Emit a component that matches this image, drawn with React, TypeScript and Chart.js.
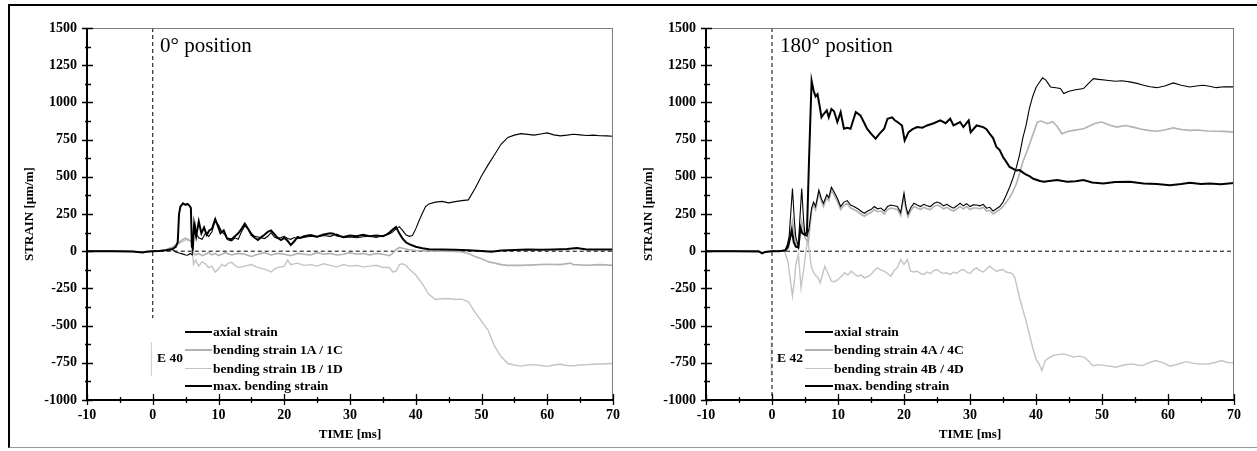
import React, { useEffect, useRef } from 'react';
import { Chart, registerables } from 'chart.js';

Chart.register(...registerables);

// ---------- axis ranges / ticks ----------
const X_MIN = -10;
const X_MAX = 70;
const Y_MIN = -1000;
const Y_MAX = 1500;
const X_STEP = 5;
const Y_STEP = 125;

// ---------- E 40 (0° position) : [time ms, strain µm/m] ----------
const axial40: [number, number][] = [
  [-10, 0], [-6, 0], [-3, -2], [-1.5, -8], [-1, -3], [0, 0], [1, 2], [2, 6], [3, 15], [3.5, 30], [3.8, 60],
  [4.0, 250], [4.2, 300], [4.6, 322], [5.0, 312], [5.3, 318], [5.6, 305], [5.8, 290], [5.95, 30], [6.1, 20],
  [6.3, 180], [6.6, 100], [7.0, 200], [7.4, 120], [7.8, 160], [8.2, 110], [8.6, 140], [9.0, 150], [9.5, 215],
  [9.9, 170], [10.3, 120], [10.8, 140], [11.3, 85], [12.0, 80], [12.5, 100], [13.0, 120], [13.5, 150], [14.0, 185],
  [14.5, 150], [15.0, 110], [15.5, 90], [16.0, 75], [16.5, 95], [17.0, 110], [17.5, 130], [18.0, 140], [18.5, 115],
  [19.0, 90], [19.5, 75], [20.0, 90], [20.5, 70], [21.0, 42], [21.5, 65], [22.0, 95], [22.5, 90], [23.0, 100],
  [24.0, 108], [25.0, 98], [26.0, 112], [27.0, 120], [27.5, 118], [28.0, 105], [29.0, 95], [30.0, 105], [31.0, 100],
  [32.0, 110], [33.0, 100], [34.0, 105], [35.0, 100], [35.5, 110], [36.0, 125], [36.5, 145], [37.0, 162], [37.5, 120],
  [38.0, 85], [38.5, 60], [39.0, 48], [40.0, 30], [41.0, 20], [42.0, 13], [44.0, 12], [46.0, 10], [48.0, 6],
  [50.0, 2], [51.5, -4], [53.0, 4], [55.0, 8], [57.0, 12], [59.0, 10], [61.0, 12], [63.0, 15], [64.5, 22],
  [66.0, 12], [68.0, 12], [70.0, 12],
];

const maxBend40: [number, number][] = [
  [-10, 0], [-6, 0], [-3, -2], [-1.5, -8], [-1, -3], [0, 0], [1, 2], [2, 6], [3, 12], [3.5, -5], [4.0, -12],
  [4.5, -18], [5.0, -25], [5.3, -27], [5.7, -15], [6.0, -25], [6.2, 170], [6.4, 190], [6.7, 110], [7.0, 90],
  [7.5, 80], [8.0, 120], [8.5, 100], [9.0, 130], [9.5, 205], [10.0, 175], [10.5, 130], [11.0, 110], [11.5, 75],
  [12.0, 70], [12.5, 90], [13.0, 80], [13.5, 130], [14.0, 170], [14.5, 150], [15.0, 120], [15.5, 100], [16.0, 95],
  [17.0, 85], [17.5, 100], [18.0, 125], [18.5, 95], [19.0, 85], [19.5, 92], [20.0, 100], [20.5, 85], [21.0, 80],
  [21.5, 92], [22.0, 85], [23.0, 92], [24.0, 100], [25.0, 95], [26.0, 105], [27.0, 100], [28.0, 115], [29.0, 90],
  [30.0, 95], [31.0, 90], [32.0, 97], [33.0, 100], [34.0, 92], [35.0, 105], [36.0, 115], [36.5, 130], [37.0, 150],
  [37.5, 165], [38.0, 140], [38.5, 110], [39.0, 100], [39.5, 105], [40.0, 150], [40.5, 205], [41.0, 255],
  [41.5, 300], [42.0, 318], [43.0, 330], [44.0, 335], [45.0, 325], [46.0, 333], [47.0, 340], [48.0, 345],
  [49.0, 420], [50.0, 505], [51.0, 580], [52.0, 650], [53.0, 720], [54.0, 765], [55.0, 780], [56.0, 790],
  [57.0, 785], [58.0, 780], [59.0, 788], [60.0, 795], [61.0, 782], [62.0, 775], [63.0, 780], [64.0, 786],
  [65.0, 782], [66.0, 778], [67.0, 780], [68.0, 776], [69.0, 775], [70.0, 773],
];

const bend1AC40: [number, number][] = [
  [-10, 0], [-6, 0], [-3, -2], [-1.5, -8], [-1, -3], [0, 0], [1, 3], [2, 10], [3, 28], [3.5, 42], [4.0, 58],
  [4.5, 78], [5.0, 88], [5.5, 76], [5.9, 62], [6.1, -10], [6.5, -25], [7.0, -15], [7.5, -30], [8.0, -20],
  [8.5, -10], [9.0, -25], [9.5, -15], [10.0, -30], [10.5, -20], [11.0, -10], [12.0, -25], [13.0, -15], [14.0, -20],
  [15.0, -35], [16.0, -20], [17.0, -10], [18.0, -25], [19.0, -15], [20.0, -20], [21.0, -30], [22.0, -15],
  [23.0, -20], [24.0, -25], [25.0, -10], [26.0, -20], [27.0, -15], [28.0, -25], [29.0, -20], [30.0, -10],
  [31.0, -20], [32.0, -15], [33.0, -25], [34.0, -15], [35.0, -20], [36.0, -30], [36.5, -15], [37.0, 10],
  [37.5, 25], [38.0, 20], [39.0, 10], [40.0, 5], [42.0, 2], [44.0, 0], [46.0, -2], [47.0, -5], [48.0, -15],
  [49.0, -35], [50.0, -50], [51.0, -70], [52.0, -80], [53.0, -90], [54.0, -95], [56.0, -95], [58.0, -92],
  [60.0, -88], [62.0, -90], [63.5, -80], [64.0, -90], [66.0, -94], [68.0, -90], [70.0, -95],
];

const bend1BD40: [number, number][] = [
  [-10, 0], [-6, 0], [-3, -2], [-1.5, -8], [-1, -3], [0, 0], [1, 3], [2, 8], [3, 22], [4.0, 50], [5.0, 78],
  [5.9, 68], [6.2, -90], [6.5, -60], [7.0, -100], [7.5, -70], [8.0, -85], [8.5, -110], [9.0, -100], [9.5, -140],
  [10.0, -120], [10.5, -90], [11.0, -100], [11.5, -80], [12.0, -75], [12.5, -95], [13.0, -110], [14.0, -100],
  [15.0, -90], [16.0, -110], [17.0, -120], [18.0, -140], [18.5, -120], [19.0, -110], [20.0, -100], [20.5, -60],
  [21.0, -90], [22.0, -80], [23.0, -95], [24.0, -90], [25.0, -100], [26.0, -85], [27.0, -95], [28.0, -105],
  [29.0, -90], [30.0, -100], [31.0, -95], [32.0, -105], [33.0, -100], [34.0, -95], [35.0, -110], [36.0, -110],
  [36.5, -140], [37.0, -135], [37.5, -90], [38.0, -85], [38.5, -95], [39.0, -120], [40.0, -160], [41.0, -220],
  [42.0, -290], [43.0, -325], [44.0, -320], [45.0, -318], [46.0, -325], [47.0, -322], [48.0, -340], [49.0, -410],
  [50.0, -470], [51.0, -530], [52.0, -640], [53.0, -710], [54.0, -755], [55.0, -765], [56.0, -772], [57.0, -765],
  [58.0, -762], [59.0, -768], [60.0, -774], [61.0, -765], [62.0, -760], [63.0, -768], [64.0, -770], [65.0, -765],
  [66.0, -762], [67.0, -760], [68.0, -758], [69.0, -756], [70.0, -755],
];

// ---------- E 42 (180° position) ----------
const axial42: [number, number][] = [
  [-10, 0], [-6, 0], [-2, -2], [-1.5, -15], [-1, -5], [0, 0], [1, 0], [2, 5], [2.4, 30], [2.7, 80], [3.0, 140],
  [3.3, 60], [3.6, 30], [4.0, 25], [4.3, 160], [4.6, 120], [5.0, 110], [5.3, 130], [5.6, 600], [6.0, 1145],
  [6.3, 1080], [6.6, 1040], [6.9, 1055], [7.2, 980], [7.5, 900], [7.8, 920], [8.3, 946], [8.6, 900], [9.0, 955],
  [9.4, 940], [9.9, 868], [10.4, 935], [10.9, 823], [11.4, 830], [11.9, 823], [12.3, 880], [12.7, 935],
  [13.4, 912], [14.0, 860], [14.4, 823], [15.0, 790], [15.7, 756], [16.3, 790], [17.0, 823], [17.5, 890],
  [18.2, 900], [18.6, 880], [19.0, 868], [19.7, 845], [20.1, 744], [20.7, 800], [21.3, 820], [22.0, 834],
  [22.8, 830], [23.5, 845], [24.5, 860], [25.5, 879], [26.3, 860], [27.0, 890], [27.5, 845], [28.5, 868],
  [29.0, 834], [29.8, 879], [30.1, 800], [31.0, 845], [32.0, 834], [32.5, 820], [33.0, 789], [33.5, 760],
  [34.0, 700], [34.5, 680], [35.0, 633], [35.5, 600], [36.0, 566], [37.0, 543], [37.5, 545], [38.3, 520],
  [39.0, 505], [39.6, 487], [40.6, 472], [41.2, 467], [42.0, 472], [43.2, 478], [44.7, 467], [46.0, 470],
  [47.2, 478], [48.5, 462], [50.2, 455], [52.0, 465], [54.2, 467], [56.3, 455], [58.3, 452], [60.3, 444],
  [62.0, 452], [63.3, 460], [65.0, 452], [66.3, 455], [68.0, 450], [70.0, 458],
];

const maxBend42: [number, number][] = [
  [-10, 0], [-6, 0], [-2, 0], [-1.5, -12], [-1, -4], [0, 0], [1, 0], [2.0, 10], [2.3, 40], [2.6, 100],
  [3.1, 421], [3.4, 200], [3.6, 97], [4.0, 29], [4.2, 200], [4.5, 421], [4.8, 200], [5.0, 112], [5.3, 100],
  [5.6, 150], [6.0, 290], [6.3, 330], [6.6, 300], [7.1, 411], [7.5, 350], [7.8, 322], [8.3, 380], [8.6, 360],
  [9.0, 430], [9.4, 400], [9.9, 356], [10.4, 300], [10.9, 330], [11.4, 340], [11.9, 310], [12.4, 300],
  [13.0, 285], [13.6, 265], [14.0, 255], [14.5, 270], [15.0, 280], [15.5, 300], [16.0, 285], [16.5, 290],
  [17.0, 270], [17.5, 300], [18.0, 310], [18.5, 305], [19.0, 300], [19.5, 260], [19.8, 340], [20.0, 390],
  [20.3, 300], [20.6, 250], [21.0, 290], [21.5, 322], [22.0, 310], [22.5, 300], [23.0, 315], [23.5, 305],
  [24.0, 300], [24.5, 320], [25.0, 330], [25.5, 322], [26.0, 305], [26.5, 315], [27.0, 300], [27.5, 289],
  [28.0, 305], [28.5, 322], [29.0, 305], [29.5, 320], [30.0, 300], [30.5, 311], [31.0, 310], [31.5, 305],
  [32.0, 315], [32.5, 289], [33.0, 295], [33.5, 270], [34.0, 285], [34.5, 300], [35.0, 330], [35.5, 378],
  [36.0, 430], [36.5, 490], [37.0, 560], [37.5, 646], [38.0, 760], [38.5, 848], [39.0, 960], [39.5, 1040],
  [40.0, 1100], [40.6, 1140], [41.0, 1165], [41.5, 1150], [42.2, 1104], [43.0, 1098], [43.7, 1093],
  [44.2, 1059], [45.0, 1075], [46.0, 1085], [47.2, 1093], [48.0, 1130], [48.7, 1160], [49.5, 1155],
  [50.7, 1149], [52.0, 1142], [53.0, 1145], [54.2, 1138], [55.3, 1128], [56.3, 1115], [57.3, 1105],
  [58.3, 1099], [59.5, 1110], [60.8, 1131], [62.0, 1115], [63.3, 1104], [64.3, 1110], [65.3, 1115],
  [66.3, 1108], [67.3, 1099], [68.5, 1105], [70.0, 1104],
];

const bend4AC42: [number, number][] = [
  [-10, 0], [-6, 0], [-2, 0], [-1.5, -10], [-1, -3], [0, 0], [2, 0], [2.5, 20], [3.1, 200], [3.6, 60],
  [4.0, 20], [4.5, 200], [5.0, 90], [5.5, 60], [6.0, 270], [6.3, 310], [6.6, 280], [7.1, 390], [7.5, 330],
  [7.8, 300], [8.3, 360], [8.6, 340], [9.0, 410], [9.4, 380], [9.9, 335], [10.4, 280], [10.9, 310], [11.4, 320],
  [11.9, 290], [12.4, 280], [13.0, 265], [13.6, 245], [14.0, 235], [14.5, 250], [15.0, 260], [15.5, 280],
  [16.0, 265], [16.5, 270], [17.0, 250], [17.5, 280], [18.0, 290], [18.5, 285], [19.0, 280], [19.5, 240],
  [19.8, 320], [20.0, 370], [20.3, 280], [20.6, 230], [21.0, 270], [21.5, 300], [22.0, 290], [22.5, 280],
  [23.0, 295], [23.5, 285], [24.0, 280], [24.5, 300], [25.0, 310], [25.5, 300], [26.0, 285], [26.5, 295],
  [27.0, 280], [27.5, 270], [28.0, 285], [28.5, 300], [29.0, 285], [29.5, 300], [30.0, 280], [30.5, 290],
  [31.0, 290], [31.5, 285], [32.0, 295], [32.5, 270], [33.0, 275], [33.5, 250], [34.0, 265], [34.5, 280],
  [35.0, 300], [35.5, 330], [36.0, 360], [36.5, 400], [37.0, 450], [37.5, 520], [38.0, 600], [38.7, 678],
  [39.5, 780], [40.2, 868], [40.8, 875], [41.7, 857], [42.5, 870], [43.2, 840], [43.9, 790], [44.8, 805],
  [45.7, 812], [46.5, 818], [47.2, 823], [48.0, 840], [49.0, 860], [50.0, 868], [51.0, 850], [52.2, 834],
  [53.5, 845], [54.7, 834], [56.0, 820], [57.0, 812], [58.3, 806], [59.5, 815], [60.8, 829], [62.0, 818],
  [63.3, 812], [64.5, 815], [66.0, 808], [67.3, 806], [68.5, 805], [70.0, 800],
];

const bend4BD42: [number, number][] = [
  [-10, 0], [-6, 0], [-2, 0], [-1.5, -10], [-1, -3], [0, 0], [1.9, 0], [2.4, -67], [2.8, -200], [3.1, -302],
  [3.4, -200], [3.6, -90], [4.0, -22], [4.4, -246], [4.9, -90], [5.4, 87], [5.7, -20], [6.0, -112], [6.5, -157],
  [7.0, -180], [7.3, -213], [7.7, -150], [8.0, -101], [8.5, -150], [9.0, -201], [9.5, -205], [10.0, -190],
  [10.5, -170], [11.0, -145], [11.5, -160], [12.0, -134], [12.5, -155], [13.0, -168], [13.5, -160], [14.0, -179],
  [14.5, -170], [15.0, -157], [15.5, -130], [16.0, -112], [16.5, -125], [17.0, -134], [17.5, -150], [18.0, -168],
  [18.5, -130], [19.0, -112], [19.5, -56], [20.0, -90], [20.5, -56], [21.0, -134], [21.5, -140], [22.0, -134],
  [22.5, -150], [23.0, -157], [23.5, -140], [24.0, -150], [24.5, -130], [25.0, -123], [25.5, -140], [26.0, -150],
  [26.5, -145], [27.0, -157], [27.5, -140], [28.0, -150], [28.5, -130], [29.0, -123], [29.5, -140], [30.0, -150],
  [30.5, -125], [31.0, -112], [31.5, -130], [32.0, -140], [32.5, -120], [33.0, -101], [33.5, -120], [34.0, -134],
  [34.5, -128], [35.0, -123], [35.5, -140], [36.0, -145], [36.4, -150], [36.8, -179], [37.5, -313], [38.5, -470],
  [39.5, -649], [40.0, -724], [40.5, -761], [40.9, -802], [41.4, -735], [42.0, -715], [42.6, -701], [43.3, -695],
  [44.1, -690], [45.0, -700], [45.6, -712], [46.5, -705], [47.3, -712], [48.0, -740], [48.6, -769], [49.5, -762],
  [50.6, -769], [51.5, -775], [52.1, -780], [53.3, -765], [54.6, -757], [55.3, -765], [56.1, -769], [57.0, -752],
  [58.1, -735], [59.3, -750], [60.3, -773], [61.5, -760], [62.8, -742], [63.7, -752], [64.6, -757], [66.0, -758],
  [67.0, -750], [68.1, -735], [69.0, -748], [70.0, -750],
];

// ---------- reference lines ----------
const zeroLine: [number, number][] = [[0, 0], [70, 0]];
const impactLine40: [number, number][] = [[0, 1500], [0, -450]];
const impactLine42: [number, number][] = [[0, 1500], [0, -1000]];
const sepLine40: [number, number][] = [[-0.2, -612], [-0.2, -840]];
const sepLine42: [number, number][] = [[-0.1, -612], [-0.1, -840]];

const legend40 = ['axial strain', 'bending strain 1A / 1C', 'bending strain 1B / 1D', 'max. bending strain'];
const legend42 = ['axial strain', 'bending strain 4A / 4C', 'bending strain 4B / 4D', 'max. bending strain'];

const SERIF = "'Liberation Serif', 'Times New Roman', serif";
const GRAY_A = '#b2b2b2';
const GRAY_B = '#c4c4c4';

const axesPlugin = {
  id: 'axesPlugin',
  afterDatasetsDraw(chart: any) {
    const { ctx, chartArea: a, scales } = chart;
    const xs = scales.x;
    const ys = scales.y;
    ctx.save();
    // top / right frame
    ctx.strokeStyle = '#7a7a7a';
    ctx.lineWidth = 1;
    ctx.beginPath();
    ctx.moveTo(a.left, a.top + 0.5);
    ctx.lineTo(a.right, a.top + 0.5);
    ctx.moveTo(a.right - 0.5, a.top);
    ctx.lineTo(a.right - 0.5, a.bottom);
    ctx.stroke();
    // axes
    ctx.strokeStyle = '#000';
    ctx.lineWidth = 2;
    ctx.beginPath();
    ctx.moveTo(a.left, a.top);
    ctx.lineTo(a.left, a.bottom);
    ctx.lineTo(a.right, a.bottom);
    ctx.stroke();
    // tick marks
    ctx.lineWidth = 1.3;
    ctx.beginPath();
    ys.ticks.forEach((t: any) => {
      const y = Math.round(ys.getPixelForValue(t.value)) + 0.5;
      const major = t.value % 250 === 0;
      ctx.moveTo(a.left - (major ? 5 : 2), y);
      ctx.lineTo(a.left + (major ? 6 : 4), y);
    });
    xs.ticks.forEach((t: any) => {
      const x = Math.round(xs.getPixelForValue(t.value)) + 0.5;
      const major = t.value % 10 === 0;
      ctx.moveTo(x, a.bottom - (major ? 6 : 3));
      ctx.lineTo(x, a.bottom + (major ? 5 : 3));
    });
    ctx.stroke();
    ctx.restore();
  },
};

type PanelProps = {
  left: number;
  width: number;
  padRight: number;
  axial: [number, number][];
  maxBend: [number, number][];
  bendA: [number, number][];
  bendB: [number, number][];
  impact: [number, number][];
  sep: [number, number][];
  labels: string[];
};

function StrainPanel(p: PanelProps) {
  const ref = useRef<HTMLCanvasElement | null>(null);
  useEffect(() => {
    if (!ref.current) return;
    const xy = (arr: [number, number][]) => arr.map(([x, y]) => ({ x, y }));
    const tickFont = { family: SERIF, size: 14, weight: 'bold' as const };
    const chart = new Chart(ref.current, {
      type: 'line',
      data: {
        datasets: [
          { label: p.labels[0], data: xy(p.axial), borderColor: '#000', borderWidth: 2 },
          { label: p.labels[3], data: xy(p.maxBend), borderColor: '#000', borderWidth: 1.1 },
          { label: p.labels[1], data: xy(p.bendA), borderColor: GRAY_A, borderWidth: 1.6 },
          { label: p.labels[2], data: xy(p.bendB), borderColor: GRAY_B, borderWidth: 1.4 },
          { label: 'zero', data: xy(zeroLine), borderColor: '#000', borderWidth: 1, borderDash: [4, 3] },
          { label: 'impact', data: xy(p.impact), borderColor: '#000', borderWidth: 1, borderDash: [4, 3] },
          { label: 'sep', data: xy(p.sep), borderColor: '#d4d4d4', borderWidth: 1 },
        ] as any,
      },
      options: {
        responsive: false,
        animation: false,
        events: [],
        elements: { point: { radius: 0 }, line: { tension: 0 } },
        layout: { padding: { top: 28, right: p.padRight, left: 0, bottom: 0 } },
        plugins: { legend: { display: false }, tooltip: { enabled: false }, title: { display: false } },
        scales: {
          x: {
            type: 'linear',
            min: X_MIN,
            max: X_MAX,
            grid: { display: false, drawTicks: false },
            border: { display: false },
            ticks: {
              stepSize: X_STEP,
              autoSkip: false,
              maxRotation: 0,
              padding: 7,
              color: '#000',
              font: tickFont,
              callback: (v: any) => (Number(v) % 10 === 0 ? String(v) : ''),
            },
            title: {
              display: true,
              text: 'TIME [ms]',
              color: '#000',
              font: { family: SERIF, size: 13, weight: 'bold' },
              padding: { top: 0, bottom: 9 },
            },
            afterFit: (s: any) => {
              s.height = 51;
            },
          },
          y: {
            type: 'linear',
            min: Y_MIN,
            max: Y_MAX,
            grid: { display: false, drawTicks: false },
            border: { display: false },
            ticks: {
              stepSize: Y_STEP,
              autoSkip: false,
              padding: 10,
              color: '#000',
              font: tickFont,
              callback: (v: any) => (Number(v) % 250 === 0 ? String(v) : ''),
            },
            title: {
              display: true,
              text: 'STRAIN [µm/m]',
              color: '#000',
              font: { family: SERIF, size: 13, weight: 'bold' },
              padding: { top: 14, bottom: 0 },
            },
            afterFit: (s: any) => {
              s.width = 79;
            },
          },
        },
      } as any,
      plugins: [axesPlugin],
    });
    return () => chart.destroy();
  }, []);
  return (
    <canvas
      ref={ref}
      width={p.width}
      height={451}
      style={{ position: 'absolute', left: p.left, top: 0, width: p.width, height: 451, display: 'block' }}
    />
  );
}

const legendRowsY = [331.5, 350, 368.5, 386];
const legendStyles = [
  { color: '#000', w: 2 },
  { color: GRAY_A, w: 2 },
  { color: GRAY_B, w: 1.3 },
  { color: '#000', w: 1.2 },
];

function Legend({ lineX, textX, labels, tagX, tag }: { lineX: number; textX: number; labels: string[]; tagX: number; tag: string }) {
  const txt: React.CSSProperties = {
    position: 'absolute',
    fontFamily: SERIF,
    fontWeight: 'bold',
    fontSize: 13.5,
    lineHeight: '16px',
    whiteSpace: 'nowrap',
    color: '#000',
  };
  return (
    <>
      {labels.map((l, i) => (
        <React.Fragment key={i}>
          <div
            style={{
              position: 'absolute',
              left: lineX,
              top: legendRowsY[i] - legendStyles[i].w / 2,
              width: textX - lineX - 1,
              height: legendStyles[i].w,
              background: legendStyles[i].color,
            }}
          />
          <div style={{ ...txt, left: textX, top: legendRowsY[i] - 8 }}>{l}</div>
        </React.Fragment>
      ))}
      <div style={{ ...txt, left: tagX, top: 350 }}>{tag}</div>
    </>
  );
}

export default function App() {
  const title: React.CSSProperties = {
    position: 'absolute',
    fontFamily: SERIF,
    fontSize: 21,
    lineHeight: '24px',
    whiteSpace: 'nowrap',
    color: '#000',
    top: 33,
  };
  return (
    <div style={{ position: 'absolute', left: 0, top: 0, width: 1257, height: 451, background: '#fff', overflow: 'hidden' }}>
      <div
        style={{
          position: 'absolute',
          left: 8,
          top: 4,
          width: 1249,
          height: 444,
          borderTop: '2px solid #000',
          borderLeft: '2px solid #000',
          borderBottom: '1px solid #999',
          boxSizing: 'border-box',
        }}
      />
      <StrainPanel
        left={8}
        width={619}
        padRight={9}
        axial={axial40}
        maxBend={maxBend40}
        bendA={bend1AC40}
        bendB={bend1BD40}
        impact={impactLine40}
        sep={sepLine40}
        labels={legend40}
      />
      <StrainPanel
        left={627}
        width={621}
        padRight={10}
        axial={axial42}
        maxBend={maxBend42}
        bendA={bend4AC42}
        bendB={bend4BD42}
        impact={impactLine42}
        sep={sepLine42}
        labels={legend42}
      />
      <div style={{ ...title, left: 160 }}>0° position</div>
      <div style={{ ...title, left: 780 }}>180° position</div>
      <Legend lineX={185} textX={213} labels={legend40} tagX={157} tag="E 40" />
      <Legend lineX={805} textX={834} labels={legend42} tagX={777} tag="E 42" />
    </div>
  );
}
